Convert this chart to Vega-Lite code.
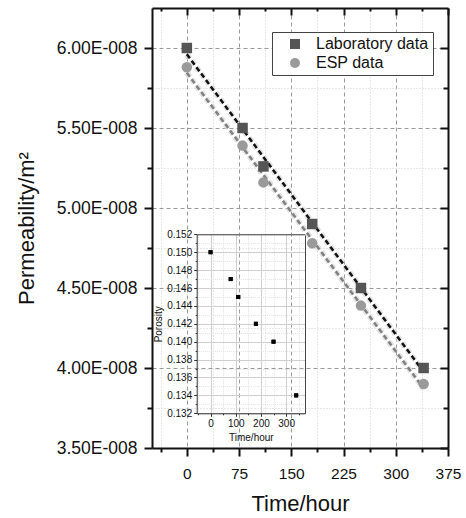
{
  "$schema": "https://vega.github.io/schema/vega-lite/v6.json",
  "width": 296,
  "height": 440,
  "autosize": {"type": "none"},
  "padding": {"left": 152, "top": 8, "right": 18, "bottom": 70},
  "background": "white",
  "config": {
    "font": "Liberation Sans",
    "view": {"stroke": null},
    "axis": {"labelFont": "Liberation Sans", "titleFont": "Liberation Sans", "titleFontWeight": "normal", "labelColor": "#111111", "titleColor": "#111111", "labelOverlap": false, "labelFlush": false, "labelBound": false}
  },
  "datasets": {
    "perm": [
      {"time": 0, "perm": 6.00e-8, "series": "Laboratory data"},
      {"time": 80, "perm": 5.50e-8, "series": "Laboratory data"},
      {"time": 110, "perm": 5.26e-8, "series": "Laboratory data"},
      {"time": 180, "perm": 4.90e-8, "series": "Laboratory data"},
      {"time": 250, "perm": 4.50e-8, "series": "Laboratory data"},
      {"time": 340, "perm": 4.00e-8, "series": "Laboratory data"},
      {"time": 0, "perm": 5.88e-8, "series": "ESP data"},
      {"time": 80, "perm": 5.39e-8, "series": "ESP data"},
      {"time": 110, "perm": 5.16e-8, "series": "ESP data"},
      {"time": 180, "perm": 4.78e-8, "series": "ESP data"},
      {"time": 250, "perm": 4.39e-8, "series": "ESP data"},
      {"time": 340, "perm": 3.90e-8, "series": "ESP data"}
    ],
    "poro": [
      {"time": 0, "porosity": 0.150},
      {"time": 80, "porosity": 0.147},
      {"time": 110, "porosity": 0.145},
      {"time": 180, "porosity": 0.142},
      {"time": 250, "porosity": 0.140},
      {"time": 340, "porosity": 0.134}
    ]
  },
  "layer": [
    {
      "data": {"name": "perm"},
      "layer": [
        {
          "transform": [{"regression": "perm", "on": "time", "groupby": ["series"]}],
          "mark": {"type": "line", "strokeDash": [5, 3], "strokeWidth": 6, "color": "#d8d8d8", "opacity": 0.7},
          "encoding": {
            "x": {"field": "time", "type": "quantitative",
              "scale": {"domain": [-50, 375], "nice": false, "zero": false},
              "axis": {"orient": "bottom", "values": [-37.5, 0, 37.5, 75, 112.5, 150, 187.5, 225, 262.5, 300, 337.5, 375],
                "format": ".0f",
                "labelExpr": "datum.value % 75 == 0 ? datum.label : ''",
                "labelFontSize": 15.5, "labelPadding": 10,
                "tickSize": {"condition": {"test": "datum.value % 75 == 0", "value": 8}, "value": 4},
                "tickWidth": 2, "tickColor": "#111111",
                "domainColor": "#111111", "domainWidth": 2,
                "grid": true,
                "gridColor": {"condition": {"test": "datum.value % 75 == 0", "value": "#9a9a9a"}, "value": "#d0d0d0"},
                "gridDash": {"condition": {"test": "datum.value % 75 == 0", "value": [4, 3]}, "value": [1, 2]},
                "gridWidth": 1,
                "title": "Time/hour", "titleFontSize": 22, "titlePadding": 12}},
            "y": {"field": "perm", "type": "quantitative",
              "scale": {"domain": [3.5e-8, 6.25e-8], "nice": false, "zero": false},
              "axis": {"orient": "left", "values": [3.5e-8, 3.75e-8, 4e-8, 4.25e-8, 4.5e-8, 4.75e-8, 5e-8, 5.25e-8, 5.5e-8, 5.75e-8, 6e-8],
                "labelExpr": "abs(round(datum.value*1e10)) % 50 == 0 ? format(datum.value*1e8, '.2f') + 'E-008' : ''",
                "labelFontSize": 17.5, "labelPadding": 7,
                "tickSize": {"condition": {"test": "abs(round(datum.value*1e10)) % 50 == 0", "value": 8}, "value": 5},
                "tickWidth": 2, "tickColor": "#111111",
                "domainColor": "#111111", "domainWidth": 2,
                "grid": true,
                "gridColor": {"condition": {"test": "abs(round(datum.value*1e10)) % 50 == 0", "value": "#9a9a9a"}, "value": "#d0d0d0"},
                "gridDash": {"condition": {"test": "abs(round(datum.value*1e10)) % 50 == 0", "value": [4, 3]}, "value": [1, 2]},
                "gridWidth": 1,
                "title": "Permeability/m²", "titleFontSize": 22, "titlePadding": 18}},
            "detail": {"field": "series", "type": "nominal"}
          }
        },
        {
          "transform": [{"filter": "datum.series == 'ESP data'"}, {"regression": "perm", "on": "time"}],
          "mark": {"type": "line", "strokeDash": [5, 3], "strokeWidth": 2.5, "color": "#808080"},
          "encoding": {
            "x": {"field": "time", "type": "quantitative", "axis": null},
            "y": {"field": "perm", "type": "quantitative", "axis": null}
          }
        },
        {
          "transform": [{"filter": "datum.series == 'Laboratory data'"}, {"regression": "perm", "on": "time"}],
          "mark": {"type": "line", "strokeDash": [5, 3], "strokeWidth": 2.5, "color": "#111111"},
          "encoding": {
            "x": {"field": "time", "type": "quantitative", "axis": null},
            "y": {"field": "perm", "type": "quantitative", "axis": null}
          }
        },
        {
          "mark": {"type": "point", "filled": true, "opacity": 1, "size": 110},
          "encoding": {
            "x": {"field": "time", "type": "quantitative",
              "axis": {"orient": "top", "values": [-37.5, 0, 37.5, 75, 112.5, 150, 187.5, 225, 262.5, 300, 337.5, 375],
                "labels": false, "grid": false,
                "tickSize": {"condition": {"test": "datum.value % 75 == 0", "value": -7}, "value": -3},
                "tickWidth": 2, "tickColor": "#111111",
                "domainColor": "#111111", "domainWidth": 2, "title": null}},
            "y": {"field": "perm", "type": "quantitative",
              "axis": {"orient": "right", "values": [3.5e-8, 3.75e-8, 4e-8, 4.25e-8, 4.5e-8, 4.75e-8, 5e-8, 5.25e-8, 5.5e-8, 5.75e-8, 6e-8],
                "labels": false, "grid": false,
                "tickSize": {"condition": {"test": "abs(round(datum.value*1e10)) % 50 == 0", "value": -8}, "value": -5},
                "tickWidth": 2, "tickColor": "#111111",
                "domainColor": "#111111", "domainWidth": 2, "title": null}},
            "fill": {"field": "series", "type": "nominal",
              "scale": {"domain": ["Laboratory data", "ESP data"], "range": ["#555555", "#9a9a9a"]},
              "legend": {"title": null, "orient": "none", "legendX": 120, "legendY": 24,
                "fillColor": "white", "strokeColor": "#444444", "padding": 4,
                "symbolOffset": 11, "labelOffset": 13, "labelFontSize": 16, "labelFont": "Liberation Sans",
                "labelColor": "#111111", "rowPadding": 3, "symbolSize": 100, "symbolStrokeWidth": 0}},
            "shape": {"field": "series", "type": "nominal",
              "scale": {"domain": ["Laboratory data", "ESP data"], "range": ["square", "circle"]},
              "legend": {"title": null, "orient": "none", "legendX": 120, "legendY": 24,
                "fillColor": "white", "strokeColor": "#444444", "padding": 4,
                "symbolOffset": 11, "labelOffset": 13, "labelFontSize": 16, "labelFont": "Liberation Sans",
                "labelColor": "#111111", "rowPadding": 3, "symbolSize": 100, "symbolStrokeWidth": 0}}
          }
        }
      ],
      "resolve": {"axis": {"x": "independent", "y": "independent"}}
    },
    {
      "data": {"name": "poro"},
      "layer": [
        {
          "mark": {"type": "square", "size": 16, "color": "#000000", "opacity": 1},
          "encoding": {
            "x": {"field": "time", "type": "quantitative",
              "scale": {"domain": [-55, 375], "range": [44.7, 153], "nice": false, "zero": false},
              "axis": {"orient": "top", "offset": -226.3, "values": [-50, 0, 50, 100, 150, 200, 250, 300, 350],
                "labels": false, "ticks": false,
                "domainColor": "#444444", "domainWidth": 1,
                "grid": true,
                "gridColor": {"condition": {"test": "datum.value % 100 == 0", "value": "#cfcfcf"}, "value": "#e2e2e2"},
                "gridDash": {"condition": {"test": "datum.value % 100 == 0", "value": []}, "value": [1, 1]},
                "gridWidth": 1, "title": null}},
            "y": {"field": "porosity", "type": "quantitative",
              "scale": {"domain": [0.132, 0.152], "range": [405.3, 226.3], "nice": false, "zero": false},
              "axis": {"orient": "left", "offset": -44.7,
                "values": [0.132, 0.133, 0.134, 0.135, 0.136, 0.137, 0.138, 0.139, 0.140, 0.141, 0.142, 0.143, 0.144, 0.145, 0.146, 0.147, 0.148, 0.149, 0.150, 0.151, 0.152],
                "labelExpr": "round(datum.value*1000) % 2 == 0 ? format(datum.value, '.3f') : ''",
                "labelFontSize": 10, "labelPadding": 2,
                "tickSize": {"condition": {"test": "round(datum.value*1000) % 2 == 0", "value": 3}, "value": 1.5},
                "tickWidth": 1, "tickColor": "#333333",
                "domainColor": "#333333", "domainWidth": 1,
                "grid": true,
                "gridColor": {"condition": {"test": "round(datum.value*1000) % 2 == 0", "value": "#cfcfcf"}, "value": "#e2e2e2"},
                "gridDash": {"condition": {"test": "round(datum.value*1000) % 2 == 0", "value": []}, "value": [1, 1]},
                "gridWidth": 1,
                "title": "Porosity", "titleFontSize": 10, "titlePadding": 3}}
          }
        },
        {
          "mark": {"type": "square", "size": 16, "color": "#000000", "opacity": 1},
          "encoding": {
            "x": {"field": "time", "type": "quantitative",
              "axis": {"orient": "bottom", "offset": -34.7, "values": [-50, 0, 50, 100, 150, 200, 250, 300, 350],
                "labelExpr": "datum.value % 100 == 0 && datum.value >= 0 ? datum.label : ''",
                "labelFontSize": 10, "labelPadding": 2,
                "tickSize": {"condition": {"test": "datum.value % 100 == 0", "value": 3}, "value": 1.5},
                "tickWidth": 1, "tickColor": "#333333",
                "domainColor": "#333333", "domainWidth": 1, "grid": false,
                "title": "Time/hour", "titleFontSize": 10, "titlePadding": 4}},
            "y": {"field": "porosity", "type": "quantitative",
              "axis": {"orient": "right", "offset": -143, "labels": false, "ticks": false, "grid": false,
                "domainColor": "#444444", "domainWidth": 1, "title": null}}
          }
        }
      ],
      "resolve": {"axis": {"x": "independent", "y": "independent"}}
    }
  ],
  "resolve": {"scale": {"x": "independent", "y": "independent"}}
}
